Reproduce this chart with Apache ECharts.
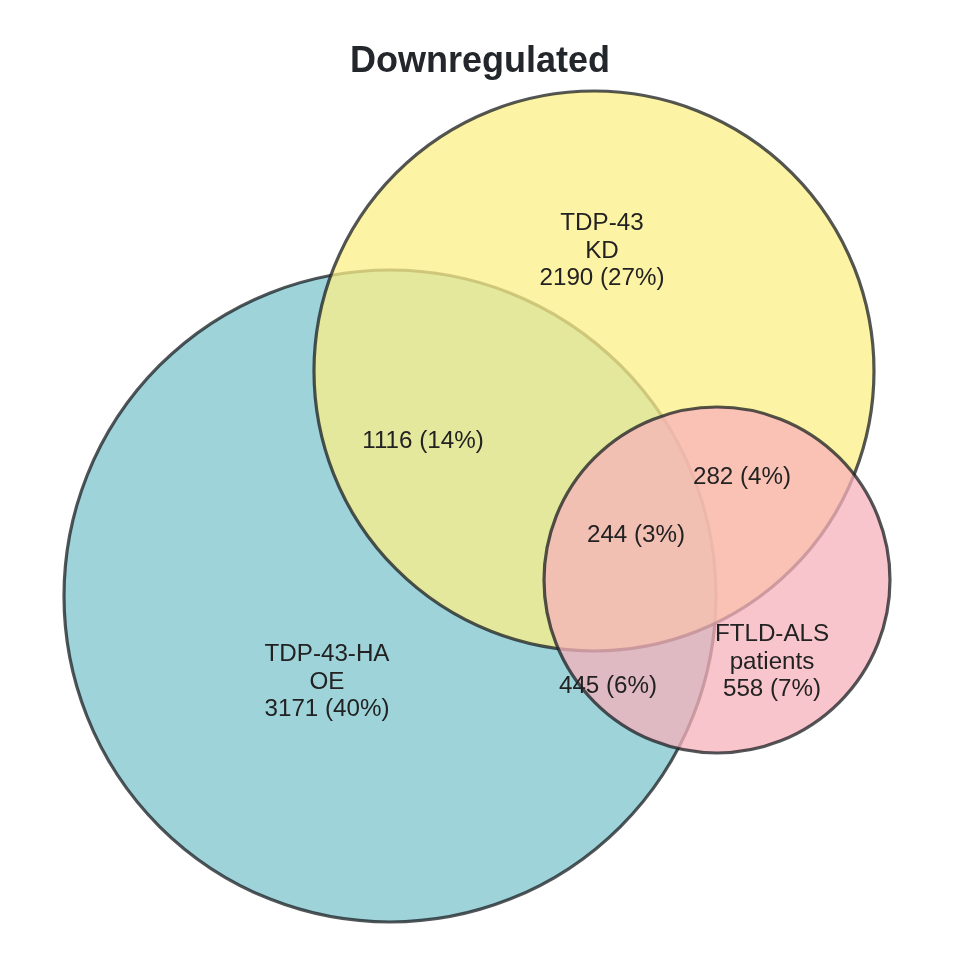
<!DOCTYPE html>
<html>
<head>
<meta charset="utf-8">
<script src="https://cdn.jsdelivr.net/npm/echarts@6/dist/echarts.min.js"></script>
<style>
  html, body { margin: 0; padding: 0; background: #fff; }
  #chart { width: 960px; height: 960px; }
</style>
</head>
<body>
<div id="chart"></div>
<script>
// set names and region counts
const setNames = ['TDP-43-HA\nOE', 'TDP-43\nKD', 'FTLD-ALS\npatients']
const regionNames = ['OE only', 'KD only', 'FTLD only', 'OE & KD', 'KD & FTLD', 'OE & FTLD', 'all three']
const regionCounts = [3171, 2190, 558, 1116, 282, 445, 244]
const regionPercents = [40, 27, 7, 14, 4, 6, 3]

// circle layout (chart units on a 0..960 plane): [cx, cy, r]
const circleLayout = [
  [390, 596, 326],
  [594, 371, 280],
  [717, 580, 173],
]
// where each region's label sits
const labelAnchors = [
  [327, 682], [602, 251], [772, 662],
  [423, 441], [742, 477], [608, 686], [636, 535],
]
// which set owns the name for a single-set region
const labelSet = [0, 1, 2, -1, -1, -1, -1]

const fills = ['rgb(124,196,204)', 'rgb(252,239,135)', 'rgb(247,178,187)']

const circleData = circleLayout.map((c, i) => ({ value: c, name: setNames[i] }))
const labelData = labelAnchors.map((p, i) => {
  let txt = regionCounts[i] + ' (' + regionPercents[i] + '%)'
  if (labelSet[i] >= 0) txt = setNames[labelSet[i]] + '\n' + txt
  return { value: p, name: regionNames[i], txt }
})

const chart = echarts.init(document.getElementById('chart'))
chart.setOption({
  backgroundColor: '#fff',
  animation: false,
  title: {
    text: 'Downregulated',
    left: 'center',
    top: 39,
    textStyle: { fontFamily: 'Liberation Sans', fontSize: 36, fontWeight: 'bold', color: '#23272b' }
  },
  grid: { left: 0, right: 0, top: 0, bottom: 0 },
  xAxis: { type: 'value', min: 0, max: 960, show: false },
  yAxis: { type: 'value', min: 0, max: 960, inverse: true, show: false },
  series: [
    {
      type: 'custom',
      data: circleData,
      renderItem: (params, api) => {
        const c = api.coord([api.value(0), api.value(1)])
        const r = api.size([api.value(2), 0])[0]
        return {
          type: 'circle',
          shape: { cx: c[0], cy: c[1], r },
          style: {
            fill: fills[params.dataIndex],
            stroke: '#1a1d21',
            lineWidth: 3.2,
            opacity: 0.75
          }
        }
      }
    },
    {
      type: 'custom',
      data: labelData,
      renderItem: (params, api) => {
        const p = api.coord([api.value(0), api.value(1)])
        return {
          type: 'text',
          x: p[0],
          y: p[1],
          style: {
            text: labelData[params.dataIndex].txt,
            align: 'center',
            verticalAlign: 'middle',
            fontFamily: 'Liberation Sans',
            fontSize: 24.2,
            lineHeight: 27.5,
            fill: '#222'
          }
        }
      }
    }
  ]
})
</script>
</body>
</html>
